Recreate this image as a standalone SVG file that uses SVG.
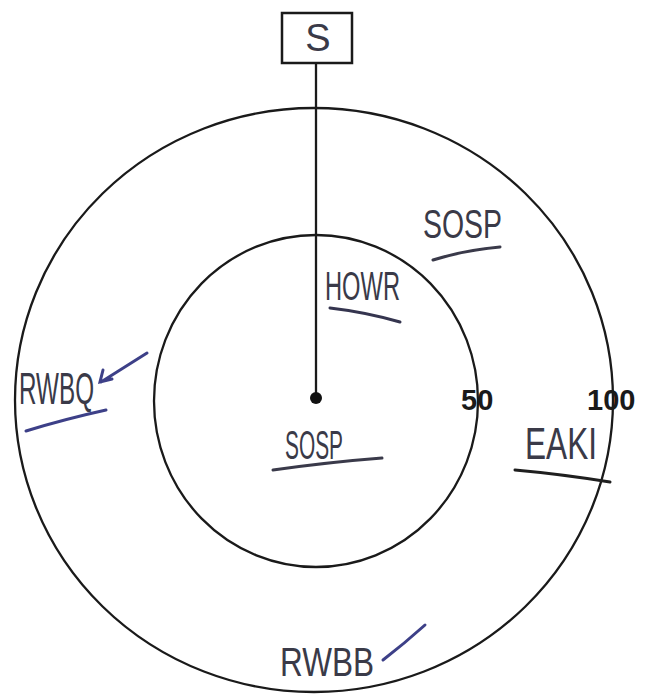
<svg xmlns="http://www.w3.org/2000/svg" width="654" height="698" viewBox="0 0 654 698">
<style>
.ring{fill:none;stroke:#1a1a1a;stroke-width:2.3}
.hw{font-family:"Liberation Sans","DejaVu Sans",sans-serif;fill:#3a3a48}
.num{font-family:"Liberation Sans",Arial,sans-serif;font-weight:bold;font-size:29px;fill:#1a1a1a}
.ul{fill:none;stroke-width:3;stroke-linecap:round}
</style>
<rect width="654" height="698" fill="#ffffff"/>
<g id="outer-ring"><ellipse class="ring" cx="314" cy="400" rx="299" ry="292"/></g>
<g id="inner-ring"><ellipse class="ring" cx="316" cy="401" rx="162" ry="166"/></g>
<g id="connectors">
<line x1="316" y1="63" x2="316" y2="398" stroke="#1a1a1a" stroke-width="2.3"/>
</g>
<g id="node-S">
<rect x="282" y="13" width="70" height="50" fill="#ffffff" stroke="#1a1a1a" stroke-width="2.5"/>
<text class="hw" x="318" y="51" font-size="38" text-anchor="middle" fill="#222">S</text>
</g>
<g id="center"><circle cx="316" cy="398" r="6" fill="#111"/></g>
<g id="label-50"><text class="num" x="461" y="410">50</text></g>
<g id="label-100"><text class="num" x="587" y="410">100</text></g>
<g id="label-sosp-outer">
<text class="hw" x="423" y="238" font-size="40" textLength="79" lengthAdjust="spacingAndGlyphs">SOSP</text>
<path class="ul" stroke="#3a3a4a" d="M433,260 Q465,250 500,247"/>
</g>
<g id="label-howr">
<text class="hw" x="325" y="300" font-size="40" textLength="75" lengthAdjust="spacingAndGlyphs">HOWR</text>
<path class="ul" stroke="#35354f" d="M330,308 Q365,312 400,322"/>
</g>
<g id="label-rwbq">
<text class="hw" x="19" y="404" font-size="44" textLength="75" lengthAdjust="spacingAndGlyphs">RWBQ</text>
<path class="ul" stroke="#3d4088" d="M147,353 L101,382 M103,370 L100,382 L112,379"/>
<path class="ul" stroke="#3d4088" d="M26,431 Q65,419 106,410"/>
</g>
<g id="label-sosp-inner">
<text class="hw" x="285" y="459" font-size="40" textLength="58" lengthAdjust="spacingAndGlyphs">SOSP</text>
<path class="ul" stroke="#3a3a4a" d="M273,470 Q330,462 382,458"/>
</g>
<g id="label-eaki">
<text class="hw" x="525" y="459" font-size="44" textLength="72" lengthAdjust="spacingAndGlyphs" fill="#1f1f1f">EAKI</text>
<path class="ul" stroke="#1f1f1f" d="M515,470 Q560,474 610,482"/>
</g>
<g id="label-rwbb">
<text class="hw" x="280" y="676" font-size="40" textLength="94" lengthAdjust="spacingAndGlyphs">RWBB</text>
<path class="ul" stroke="#3d4088" d="M383,660 Q405,643 425,625"/>
</g>
</svg>
